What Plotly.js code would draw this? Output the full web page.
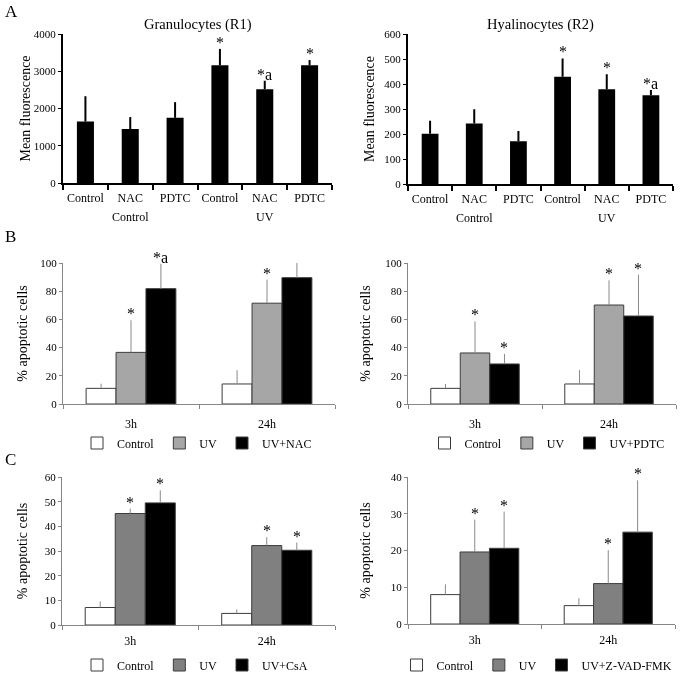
<!DOCTYPE html>
<html>
<head>
<meta charset="utf-8">
<script src="https://cdn.plot.ly/plotly-3.0.1.min.js"></script>
<style>html,body{margin:0;padding:0;background:#fff;}#chart{width:683px;height:674px;will-change:transform;}</style>
</head>
<body>
<div id="chart"></div>
<script>
// ---------- DATA ----------
const aCategories = ['Control', 'NAC', 'PDTC', 'Control', 'NAC', 'PDTC'];
const aGroups = ['Control', 'UV'];
const granTitle = 'Granulocytes (R1)';
const granValues = [1650, 1450, 1750, 3160, 2520, 3160];
const granSD = [680, 320, 420, 440, 225, 140];
const granSig = ['', '', '', '*', '*a', '*'];
const hyalTitle = 'Hyalinocytes (R2)';
const hyalValues = [201, 242, 171, 429, 379, 355];
const hyalSD = [52, 57, 41, 73, 60, 21];
const hyalSig = ['', '', '', '*', '*', '*a'];

const times = ['3h', '24h'];
// Panel B left (NAC)
const bNacNames = ['Control', 'UV', 'UV+NAC'];
const bNacValues = [[11.1, 14.2], [36.6, 71.5], [81.8, 89.6]];
const bNacSD = [[3.3, 9.8], [22.8, 16.7], [17.7, 11.8]];
const bNacSig = [['', ''], ['*', '*'], ['*a', '*']];
// Panel B right (PDTC)
const bPdtcNames = ['Control', 'UV', 'UV+PDTC'];
const bPdtcValues = [[11.1, 14.2], [36.2, 70.2], [28.4, 62.4]];
const bPdtcSD = [[3.1, 9.9], [22.4, 17.5], [7.1, 29.3]];
const bPdtcSig = [['', ''], ['*', '*'], ['*', '*']];
// Panel C left (CsA)
const cCsaNames = ['Control', 'UV', 'UV+CsA'];
const cCsaValues = [[7.1, 4.7], [45.2, 32.2], [49.5, 30.3]];
const cCsaSD = [[2.5, 1.6], [2.0, 3.4], [5.1, 3.1]];
const cCsaSig = [['', ''], ['*', '*'], ['*', '*']];
// Panel C right (Z-VAD-FMK)
const cZvadNames = ['Control', 'UV', 'UV+Z-VAD-FMK'];
const cZvadValues = [[8.0, 5.0], [19.6, 11.0], [20.6, 25.0]];
const cZvadSD = [[2.8, 2.0], [8.8, 9.1], [10.0, 14.1]];
const cZvadSig = [['', ''], ['*', '*'], ['*', '*']];

// ---------- STYLE ----------
const FONT = 'Liberation Serif';
const BLACK = '#000000';
function f(size) { return {family: FONT, size: size, color: BLACK}; }
const W = 683, H = 674;
function px2x(p) { return p / W; }
function px2y(p) { return 1 - p / H; }
const BARGAP = 0.34;

const traces = [];
const annotations = [];
const shapes = [];
const layout = {
  width: W, height: H,
  margin: {l: 0, r: 0, t: 0, b: 0, autoexpand: false},
  paper_bgcolor: '#fff', plot_bgcolor: 'rgba(0,0,0,0)',
  font: f(12),
  barmode: 'group', bargap: BARGAP, bargroupgap: 0,
  showlegend: true,
  annotations: annotations, shapes: shapes
};

function sfx(n) { return n === 1 ? '' : String(n); }

// Panel A (single series with two category levels)
function panelA(n, title, vals, sd, sig, xDom, yDom, yRange, dtick, titleStandoff) {
  const idx = vals.map((v, i) => i);
  traces.push({
    type: 'bar', x: idx, y: vals, width: 0.38,
    xaxis: 'x' + sfx(n), yaxis: 'y' + sfx(n), showlegend: false,
    marker: {color: BLACK, line: {width: 0}},
    error_y: {type: 'data', symmetric: false, array: sd, arrayminus: sd.map(() => 0),
              color: BLACK, thickness: 2, width: 0},
    hoverinfo: 'skip'
  });
  const bounds = [];
  for (let i = 0; i <= vals.length; i++) bounds.push(i - 0.5);
  layout['xaxis' + sfx(n)] = {
    domain: xDom, anchor: 'y' + sfx(n), range: [-0.5, vals.length - 0.5],
    tickmode: 'array', tickvals: idx, ticktext: aCategories, ticks: '',
    ticklabelstandoff: 3,
    minor: {tickmode: 'array', tickvals: bounds, ticks: 'outside', ticklen: 5, tickwidth: 2, tickcolor: BLACK},
    showline: true, linecolor: BLACK, linewidth: 2, showgrid: false, zeroline: false,
    tickfont: f(12), fixedrange: true
  };
  layout['yaxis' + sfx(n)] = {
    domain: yDom, anchor: 'x' + sfx(n), range: yRange, dtick: dtick,
    ticks: 'outside', ticklen: 3, tickwidth: 1, tickcolor: BLACK,
    showline: true, linecolor: BLACK, linewidth: 2, showgrid: false, zeroline: false,
    tickfont: f(11),
    title: {text: 'Mean fluorescence', font: f(14), standoff: titleStandoff},
    fixedrange: true
  };
  annotations.push({xref: 'x' + sfx(n) + ' domain', yref: 'y' + sfx(n) + ' domain', x: 0.5, y: 1,
    yanchor: 'bottom', yshift: -1, showarrow: false, text: title, font: f(14.5)});
  vals.forEach((v, i) => {
    if (!sig[i]) return;
    annotations.push({xref: 'x' + sfx(n), yref: 'y' + sfx(n), x: i, y: v + sd[i], yanchor: 'bottom',
      yshift: -4, showarrow: false, text: sig[i], font: f(16)});
  });
  const per = vals.length / aGroups.length;
  aGroups.forEach((g, gi) => {
    annotations.push({xref: 'x' + sfx(n), yref: 'y' + sfx(n) + ' domain', x: gi * per + (per - 1) / 2, y: 0,
      yanchor: 'top', yshift: -25, showarrow: false, text: g, font: f(12)});
  });
  const edges = [];
  for (let gi = 0; gi <= aGroups.length; gi++) edges.push(gi * per - 0.5);
  edges.forEach((e, k) => {
    const len = (k === 0 || k === edges.length - 1) ? -10 : -18;
    shapes.push({type: 'line', xref: 'x' + sfx(n), yref: 'y' + sfx(n), ysizemode: 'pixel', yanchor: 0,
      x0: e, x1: e, y0: 0, y1: len, line: {color: BLACK, width: 2}});
  });
}

// Panels B and C (three grouped series)
function panelGrouped(n, names, vals, sd, sig, uvColor, legendId, legendPos, xDom, yDom, yRange, dtick,
                      labelStandoff, titleStandoff) {
  const colors = ['#ffffff', uvColor, BLACK];
  const idx = times.map((t, i) => i);
  const barW = (1 - BARGAP) / names.length;
  names.forEach((nm, j) => {
    traces.push({
      type: 'bar', name: nm, x: idx, y: vals[j],
      xaxis: 'x' + sfx(n), yaxis: 'y' + sfx(n), legend: legendId,
      marker: {color: colors[j], line: {color: '#3c3c3c', width: 1}},
      error_y: {type: 'data', symmetric: false, array: sd[j], arrayminus: sd[j].map(() => 0),
                color: '#8a8a8a', thickness: 1, width: 0},
      hoverinfo: 'skip'
    });
    vals[j].forEach((v, i) => {
      if (!sig[j][i]) return;
      annotations.push({xref: 'x' + sfx(n), yref: 'y' + sfx(n), x: i + (j - (names.length - 1) / 2) * barW,
        y: v + sd[j][i], yanchor: 'bottom', yshift: -4, showarrow: false, text: sig[j][i],
        font: f(16)});
    });
  });
  const bounds = [];
  for (let i = 0; i <= times.length; i++) bounds.push(i - 0.5);
  layout['xaxis' + sfx(n)] = {
    domain: xDom, anchor: 'y' + sfx(n), range: [-0.5, times.length - 0.5],
    tickmode: 'array', tickvals: idx, ticktext: times, ticks: '',
    ticklabelstandoff: labelStandoff,
    minor: {tickmode: 'array', tickvals: bounds, ticks: 'outside', ticklen: 4, tickwidth: 1, tickcolor: '#868686'},
    showline: true, linecolor: '#868686', linewidth: 1, showgrid: false, zeroline: false,
    tickfont: f(12), fixedrange: true
  };
  layout['yaxis' + sfx(n)] = {
    domain: yDom, anchor: 'x' + sfx(n), range: yRange, dtick: dtick,
    ticks: 'outside', ticklen: 3, tickwidth: 1, tickcolor: '#868686',
    showline: true, linecolor: '#868686', linewidth: 1, showgrid: false, zeroline: false,
    tickfont: f(11),
    title: {text: '% apoptotic cells', font: f(14), standoff: titleStandoff},
    fixedrange: true
  };
  layout[legendId] = {
    orientation: 'h', x: legendPos[0], y: legendPos[1], xanchor: 'center', yanchor: 'middle',
    font: f(12), bgcolor: 'rgba(0,0,0,0)', traceorder: 'normal',
    itemwidth: 30, itemclick: false, itemdoubleclick: false
  };
}

panelA(1, granTitle, granValues, granSD, granSig,
  [px2x(63), px2x(332)], [px2y(183), px2y(34)], [0, 4000], 1000, 0);
panelA(2, hyalTitle, hyalValues, hyalSD, hyalSig,
  [px2x(408), px2x(673)], [px2y(184), px2y(34)], [0, 600], 100, 6);
panelGrouped(3, bNacNames, bNacValues, bNacSD, bNacSig, '#a6a6a6', 'legend',
  [px2x(197), px2y(443)], [px2x(63), px2x(335)], [px2y(404), px2y(263)], [0, 100], 20, 9, 9);
panelGrouped(4, bPdtcNames, bPdtcValues, bPdtcSD, bPdtcSig, '#a6a6a6', 'legend2',
  [px2x(547), px2y(443)], [px2x(408), px2x(676)], [px2y(404), px2y(263)], [0, 100], 20, 9, 11);
panelGrouped(5, cCsaNames, cCsaValues, cCsaSD, cCsaSig, '#808080', 'legend3',
  [px2x(195), px2y(665)], [px2x(62), px2x(335)], [px2y(625), px2y(477)], [0, 60], 10, 5, 13);
panelGrouped(6, cZvadNames, cZvadValues, cZvadSD, cZvadSig, '#808080', 'legend4',
  [px2x(537), px2y(665)], [px2x(408), px2x(675)], [px2y(624), px2y(477)], [0, 40], 10, 5, 16);

// panel letters
[['A', 12], ['B', 236], ['C', 459]].forEach(([t, y]) => {
  annotations.push({xref: 'paper', yref: 'paper', x: px2x(3), y: px2y(y), xanchor: 'left', yanchor: 'middle',
    showarrow: false, text: t, font: f(17)});
});

Plotly.newPlot('chart', traces, layout, {displayModeBar: false, staticPlot: true});
</script>
</body>
</html>
